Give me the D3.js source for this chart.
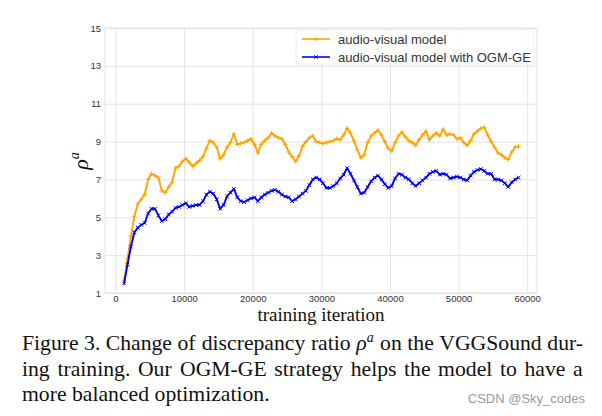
<!DOCTYPE html>
<html><head><meta charset="utf-8">
<script src="https://cdn.jsdelivr.net/npm/d3@7"></script>
<style>html,body{margin:0;padding:0;background:#fff;overflow:hidden}</style>
</head><body><svg id="c" width="602" height="416"></svg>
<script>
const iterations = [1250,1750,2250,2750,3250,3750,4250,4750,5250,5750,
6250,6750,7250,7750,8250,8750,9250,9750,10250,10750,
11250,11750,12250,12750,13250,13750,14250,14750,15250,15750,
16250,16750,17250,17750,18250,18750,19250,19750,20250,20750,
21250,21750,22250,22750,23250,23750,24250,24750,25250,25750,
26250,26750,27250,27750,28250,28750,29250,29750,30250,30750,
31250,31750,32250,32750,33250,33750,34250,34750,35250,35750,
36250,36750,37250,37750,38250,38750,39250,39750,40250,40750,
41250,41750,42250,42750,43250,43750,44250,44750,45250,45750,
46250,46750,47250,47750,48250,48750,49250,49750,50250,50750,
51250,51750,52250,52750,53250,53750,54250,54750,55250,55750,
56250,56750,57250,57750,58250,58750];
const audioVisual = [1.67,2.8,4.0,5.05,5.7,5.95,6.2,7.0,7.3,7.2,
7.1,6.4,6.3,6.6,6.85,7.6,7.7,7.95,8.1,7.9,
7.7,7.85,8.0,8.2,8.65,9.05,8.95,8.7,8.1,8.3,
8.7,8.95,9.4,8.85,8.9,8.95,9.05,9.15,8.85,8.4,
8.85,9.05,9.2,9.45,9.3,9.2,9.15,8.85,8.45,8.2,
7.95,8.25,8.75,9.0,9.2,9.3,9.0,8.95,8.9,8.95,
9.0,9.05,9.15,9.1,9.35,9.7,9.45,9.05,8.55,8.15,
8.3,8.95,9.3,9.45,9.6,9.35,9.0,8.65,8.5,8.95,
9.3,9.5,9.25,9.05,8.95,8.8,9.1,9.35,9.55,9.1,
9.3,9.45,9.3,9.65,9.35,9.4,9.35,9.15,9.2,8.95,
8.8,9.05,9.4,9.55,9.7,9.75,9.35,9.0,8.7,8.4,
8.3,8.15,8.05,8.45,8.7,8.75];
const audioVisualOGM = [1.5,2.5,3.45,4.2,4.45,4.6,4.7,5.2,5.45,5.45,
5.1,4.8,4.9,5.15,5.3,5.5,5.55,5.65,5.75,5.55,
5.6,5.65,5.65,5.85,6.2,6.35,6.25,5.95,5.45,5.65,
6.1,6.3,6.5,6.05,5.85,5.8,5.9,6.0,6.05,5.85,
6.05,6.2,6.3,6.4,6.45,6.35,6.2,6.1,6.05,5.85,
5.95,6.1,6.25,6.4,6.7,7.0,7.1,7.0,6.8,6.55,
6.55,6.65,6.8,7.05,7.25,7.6,7.3,6.95,6.6,6.25,
6.3,6.6,6.9,7.1,7.2,7.0,6.75,6.55,6.65,7.05,
7.3,7.25,7.1,7.0,6.8,6.65,6.8,6.95,7.1,7.3,
7.4,7.45,7.25,7.3,7.25,7.05,7.1,7.15,7.1,7.0,
6.95,7.2,7.4,7.5,7.55,7.45,7.3,7.3,7.0,7.0,
6.95,6.8,6.6,6.85,7.0,7.1];
const seriesNames = ["audio-visual model", "audio-visual model with OGM-GE"];
const xTicks = [0,10000,20000,30000,40000,50000,60000];
const yTicks = [1,3,5,7,9,11,13,15];
const captionLines = [
  [["Figure"],["3."],["Change"],["of"],["discrepancy"],["ratio"],["ρ","a"],["on"],["the"],["VGGSound"],["dur-"]],
  [["ing"],["training."],["Our"],["OGM-GE"],["strategy"],["helps"],["the"],["model"],["to"],["have"],["a"]],
  [["more"],["balanced"],["optimization."]]
];
const watermark = "CSDN @Sky_codes";

const svg = d3.select('#c');
const M = {left:105, right:537, top:28, bottom:293};
const x = d3.scaleLinear().domain([-1530, 61430]).range([M.left, M.right]);
const y = d3.scaleLinear().domain([1, 15]).range([M.bottom, M.top]);
const gridC = '#e3e3e3';
const sans = "'Liberation Sans', Arial, sans-serif";
const serif = "'Liberation Serif', 'Times New Roman', serif";

// grid + axes
const ax = svg.append('g').attr('transform', `translate(0,${M.bottom})`)
  .call(d3.axisBottom(x).tickValues(xTicks).tickSize(-(M.bottom - M.top)).tickPadding(2).tickFormat(d3.format('d')));
const ay = svg.append('g').attr('transform', `translate(${M.left},0)`)
  .call(d3.axisLeft(y).tickValues(yTicks).tickSize(-(M.right - M.left)).tickPadding(4).tickFormat(d3.format('d')));
[ax, ay].forEach(g => {
  g.select('.domain').remove();
  g.selectAll('.tick line').attr('stroke', gridC).attr('stroke-width', 1);
  g.selectAll('.tick text').attr('fill', '#333').style('font-family', sans).style('font-size', '9.5px');
});
svg.append('rect').attr('x', M.left).attr('y', M.top).attr('width', M.right - M.left).attr('height', M.bottom - M.top)
  .attr('fill', 'none').attr('stroke', gridC).attr('stroke-width', 1);

const series = [
  {name: seriesNames[0], vals: audioVisual, color: '#FFA500', marker: 'M-2.2,0H2.2M0,-2.2V2.2'},
  {name: seriesNames[1], vals: audioVisualOGM, color: '#0000FF', marker: 'M-1.8,-1.8L1.8,1.8M-1.8,1.8L1.8,-1.8'}
];
const line = d3.line().x(d => x(d[0])).y(d => y(d[1]));
series.forEach(s => {
  const pts = iterations.map((it, i) => [it, s.vals[i]]);
  svg.append('path').datum(pts).attr('d', line).attr('fill', 'none').attr('stroke', s.color).attr('stroke-width', 1.9).attr('stroke-linejoin', 'round');
  svg.append('g').selectAll('path').data(pts).join('path')
    .attr('transform', d => `translate(${x(d[0])},${y(d[1])})`).attr('d', s.marker)
    .attr('stroke', s.color).attr('stroke-width', 1).attr('fill', 'none');
});

// legend
const lg = svg.append('g');
lg.append('rect').attr('x', 296).attr('y', 30).attr('width', 238).attr('height', 34)
  .attr('fill', '#fff').attr('fill-opacity', 0.8).attr('stroke', '#eeeeee');
series.forEach((s, i) => {
  const ly = 39 + i * 18;
  lg.append('line').attr('x1', 302).attr('x2', 330).attr('y1', ly).attr('y2', ly).attr('stroke', s.color).attr('stroke-width', 1.6);
  lg.append('path').attr('transform', `translate(316,${ly})`).attr('d', s.marker).attr('stroke', s.color).attr('stroke-width', 0.9);
  lg.append('text').attr('x', 338).attr('y', ly).attr('dy', '0.35em').text(s.name)
    .attr('fill', '#333').style('font-family', sans).style('font-size', '13px');
});

// axis labels
svg.append('text').attr('x', 321).attr('y', 321).attr('text-anchor', 'middle').text('training iteration')
  .style('font-family', serif).style('font-size', '19px').attr('fill', '#111');
const yl = svg.append('text').attr('transform', 'translate(88,161) rotate(-90)').attr('text-anchor', 'middle')
  .style('font-family', serif).style('font-style', 'italic').style('font-size', '22px').attr('fill', '#111');
yl.append('tspan').text('ρ');
yl.append('tspan').attr('dy', -9).style('font-size', '14px').text('a');

// caption
const capL = 22, capR = 583, baselines = [350, 376, 401];
captionLines.forEach((words, li) => {
  const nodes = words.map(w => {
    const t = svg.append('text').attr('y', baselines[li]).style('font-family', serif).style('font-size', '21.7px').attr('fill', '#111');
    if (w.length === 2) {
      t.append('tspan').style('font-style', 'italic').text(w[0]);
      t.append('tspan').attr('dy', -8).style('font-size', '14px').style('font-style', 'italic').text(w[1]);
    } else t.text(w[0]);
    return t;
  });
  const widths = nodes.map(n => n.node().getBBox().width);
  const total = d3.sum(widths);
  const justify = li < captionLines.length - 1;
  const gap = justify ? (capR - capL - total) / (nodes.length - 1) : 5.4;
  let cx = capL;
  nodes.forEach((n, i) => { n.attr('x', cx); cx += widths[i] + gap; });
});
svg.append('text').attr('x', 585).attr('y', 403).attr('text-anchor', 'end').text(watermark)
  .style('font-family', sans).style('font-size', '13px').attr('fill', '#9a9a9a');
</script></body></html>
